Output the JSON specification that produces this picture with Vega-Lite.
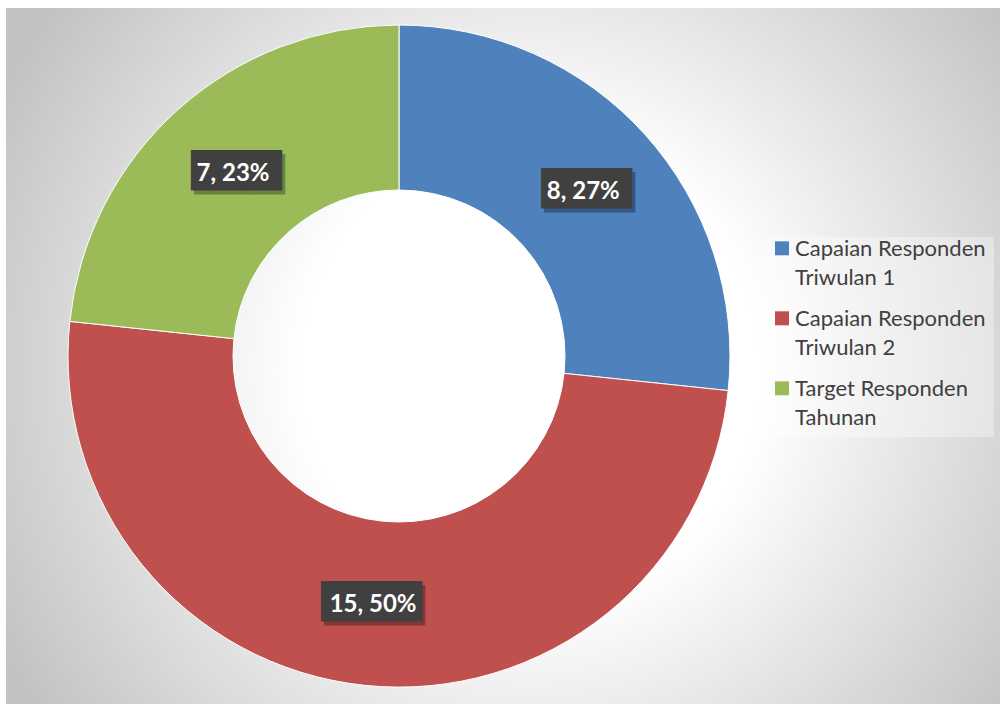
{
  "$schema": "https://vega.github.io/schema/vega-lite/v6.json",
  "autosize": {"type": "pad"},
  "padding": {"left": 6, "top": 8, "right": 0, "bottom": 0},
  "background": "#ffffff",
  "spacing": 0,
  "bounds": "flush",
  "config": {
    "view": {"stroke": null},
    "style": {"guide-label": {"lineHeight": 29}}
  },
  "hconcat": [
    {
      "width": 786,
      "height": 696,
      "view": {
        "stroke": null,
        "fill": {
          "gradient": "radial",
          "x1": 0.6667, "y1": 0.5178, "r1": 0,
          "x2": 0.6667, "y2": 0.5178, "r2": 0.7634,
          "stops": [
            {"offset": 0, "color": "#ffffff"},
            {"offset": 0.383, "color": "#ffffff"},
            {"offset": 1, "color": "#c2c2c2"}
          ]
        }
      },
      "data": {
        "values": [
          {"kategori": "Capaian Responden Triwulan 1", "nilai": 8, "label": "8, 27%", "urutan": 1},
          {"kategori": "Capaian Responden Triwulan 2", "nilai": 15, "label": "15, 50%", "urutan": 2},
          {"kategori": "Target Responden Tahunan", "nilai": 7, "label": "7, 23%", "urutan": 3}
        ]
      },
      "encoding": {
        "theta": {"field": "nilai", "type": "quantitative", "stack": true},
        "order": {"field": "urutan", "type": "quantitative"}
      },
      "layer": [
        {
          "mark": {"type": "arc", "innerRadius": 166, "outerRadius": 331, "stroke": "#ffffff", "strokeWidth": 1},
          "encoding": {
            "color": {
              "field": "kategori",
              "type": "nominal",
              "scale": {
                "domain": ["Capaian Responden Triwulan 1", "Capaian Responden Triwulan 2", "Target Responden Tahunan"],
                "range": ["#4f81bd", "#c0504d", "#9bbb59"]
              },
              "legend": {
                "title": null,
                "orient": "none",
                "legendX": 757,
                "legendY": 229,
                "zindex": 1,
                "padding": 8,
                "fillColor": "rgba(255,255,255,0.35)",
                "symbolType": "M-1,-2.1H1V-0.1H-1Z",
                "symbolSize": 196,
                "symbolStrokeWidth": 0,
                "labelFont": "Lato",
                "labelFontSize": 22,
                "labelColor": "#404040",
                "labelBaseline": "alphabetic",
                "labelLimit": 400,
                "labelOffset": 2,
                "rowPadding": 19,
                "labelExpr": "split(replace(datum.label, 'Responden ', 'Responden|'), '|')"
              }
            }
          }
        },
        {
          "mark": {"type": "text", "radius": 248, "font": "DejaVu Sans", "fontSize": 34, "dx": 3, "dy": 4, "opacity": 0.3, "align": "center", "baseline": "middle"},
          "encoding": {
            "detail": {"field": "kategori", "type": "nominal"},
            "color": {"value": "#000000"},
            "text": {"condition": {"test": "datum.nilai >= 10", "value": "▐███▍"}, "value": "▕███▍"}
          }
        },
        {
          "mark": {"type": "text", "radius": 248, "font": "DejaVu Sans", "fontSize": 34, "align": "center", "baseline": "middle"},
          "encoding": {
            "detail": {"field": "kategori", "type": "nominal"},
            "color": {"value": "#404040"},
            "text": {"condition": {"test": "datum.nilai >= 10", "value": "▐███▍"}, "value": "▕███▍"}
          }
        },
        {
          "mark": {"type": "text", "radius": 248, "font": "Lato", "fontWeight": "bold", "fontSize": 24, "align": "center", "baseline": "middle", "dy": 2},
          "encoding": {
            "detail": {"field": "kategori", "type": "nominal"},
            "color": {"value": "#ffffff"},
            "text": {"field": "label", "type": "nominal"}
          }
        }
      ]
    },
    {
      "width": 208,
      "height": 696,
      "view": {
        "stroke": null,
        "fill": {
          "gradient": "radial",
          "x1": -0.0259, "y1": 0.5201, "r1": 0,
          "x2": -0.0259, "y2": 0.5201, "r2": 0.8621,
          "stops": [
            {"offset": 0, "color": "#ffffff"},
            {"offset": 0.383, "color": "#ffffff"},
            {"offset": 1, "color": "#c2c2c2"}
          ]
        }
      },
      "data": {"values": []},
      "mark": {"type": "point", "opacity": 0}
    }
  ]
}
